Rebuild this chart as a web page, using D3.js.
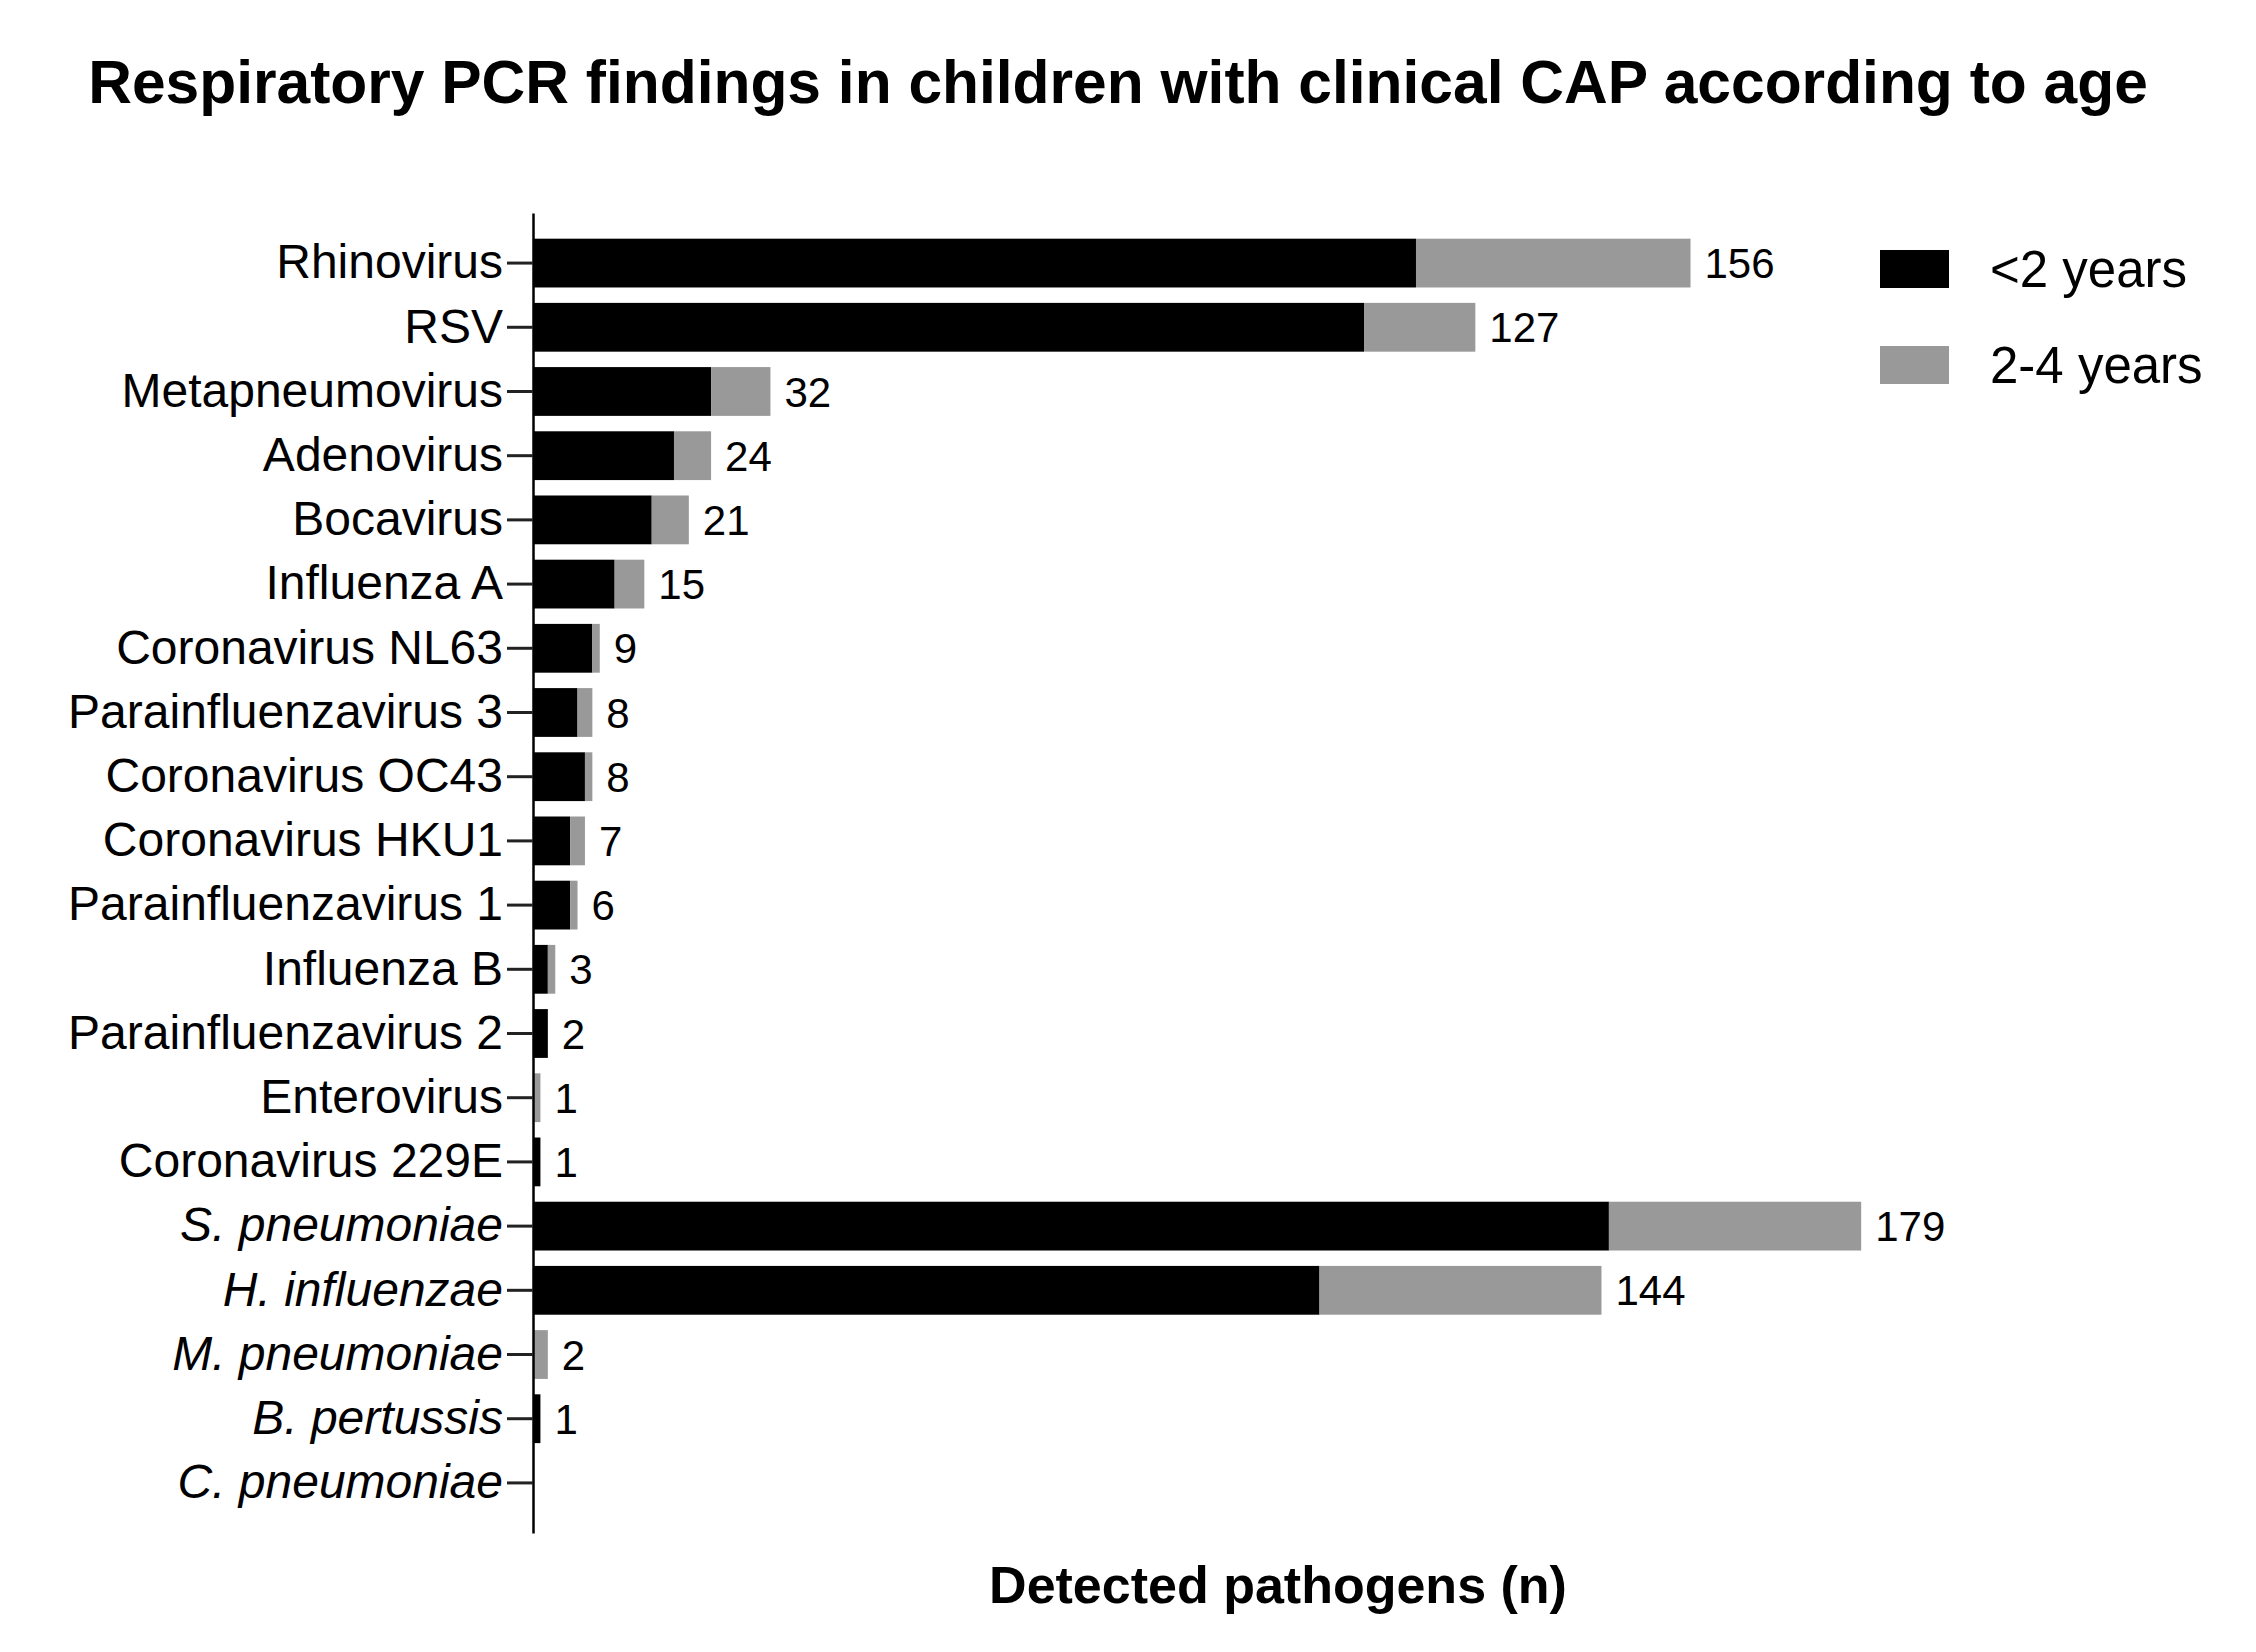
<!DOCTYPE html>
<html>
<head>
<meta charset="utf-8">
<script src="https://cdn.jsdelivr.net/npm/d3@7"></script>
<style>
  body { margin: 0; background: #fff; }
  svg { display: block; font-family: "Liberation Sans", Arial, sans-serif; }
</style>
</head>
<body>
<svg id="chart"></svg>
<script>
// pathogen categories, top to bottom
const categories = [
  "Rhinovirus", "RSV", "Metapneumovirus", "Adenovirus", "Bocavirus", "Influenza A",
  "Coronavirus NL63", "Parainfluenzavirus 3", "Coronavirus OC43", "Coronavirus HKU1",
  "Parainfluenzavirus 1", "Influenza B", "Parainfluenzavirus 2", "Enterovirus",
  "Coronavirus 229E", "S. pneumoniae", "H. influenzae", "M. pneumoniae",
  "B. pertussis", "C. pneumoniae"
];
const italicNames = ["S. pneumoniae", "H. influenzae", "M. pneumoniae", "B. pertussis", "C. pneumoniae"];

const under2 = [119, 112, 24, 19, 16, 11, 8, 6, 7, 5, 5, 2, 2, 0, 1, 145, 106, 0, 1, 0];
const age2to4 = [37, 15, 8, 5, 5, 4, 1, 2, 1, 2, 1, 1, 0, 1, 0, 34, 38, 2, 0, 0];

const seriesNames = ["<2 years", "2-4 years"];
const seriesColors = ["#000000", "#999999"];

const width = 2256, height = 1652;

const svg = d3.select("#chart")
    .attr("width", width)
    .attr("height", height);

const rows = categories.map((c, i) => ({name: c, a: under2[i], b: age2to4[i]}));

const x = d3.scaleLinear()
    .domain([0, 200])
    .range([533, 533 + 7.42 * 200]);

const y = d3.scaleBand()
    .domain(categories)
    .range([213, 1533])
    .paddingInner(0.24)
    .paddingOuter(0.4);

const stacked = d3.stack().keys(["a", "b"])(rows);

// bars
svg.append("g")
    .selectAll("g")
    .data(stacked)
    .enter()
    .append("g")
    .attr("fill", (d, i) => seriesColors[i])
    .selectAll("rect")
    .data(d => d)
    .enter()
    .append("rect")
    .attr("x", d => x(d[0]))
    .attr("y", d => y(d.data.name))
    .attr("width", d => x(d[1]) - x(d[0]))
    .attr("height", y.bandwidth());

// y axis
const yAxis = svg.append("g")
    .attr("transform", `translate(${x(0)},0)`)
    .call(d3.axisLeft(y).tickSize(26).tickSizeOuter(0).tickPadding(4));

yAxis.select(".domain").attr("stroke", "#000").attr("stroke-width", 2.5);
yAxis.selectAll(".tick line").attr("stroke", "#222").attr("stroke-width", 3);
yAxis.selectAll(".tick text")
    .attr("font-size", 48)
    .attr("font-family", "'Liberation Sans', Arial, sans-serif")
    .attr("fill", "#000")
    .attr("font-style", d => italicNames.includes(d) ? "italic" : "normal");

// totals
svg.append("g")
    .selectAll("text")
    .data(rows.filter(d => d.a + d.b > 0))
    .enter()
    .append("text")
    .attr("x", d => x(d.a + d.b) + 14)
    .attr("y", d => y(d.name) + y.bandwidth() / 2)
    .attr("dy", "0.36em")
    .attr("font-size", 42)
    .attr("fill", "#000")
    .text(d => d.a + d.b);

// legend
const legend = svg.append("g")
    .selectAll("g")
    .data(seriesNames)
    .enter()
    .append("g")
    .attr("transform", (d, i) => `translate(1880, ${250 + i * 96})`);

legend.append("rect")
    .attr("width", 69)
    .attr("height", 38)
    .attr("fill", (d, i) => seriesColors[i]);

legend.append("text")
    .attr("x", 110)
    .attr("y", 19)
    .attr("dy", "0.36em")
    .attr("font-size", 51)
    .attr("fill", "#000")
    .text(d => d);

// title
svg.append("text")
    .attr("x", 1118)
    .attr("y", 103)
    .attr("text-anchor", "middle")
    .attr("font-size", 60.5)
    .attr("font-weight", "bold")
    .text("Respiratory PCR findings in children with clinical CAP according to age");

// x axis title
svg.append("text")
    .attr("x", 1278)
    .attr("y", 1603)
    .attr("text-anchor", "middle")
    .attr("font-size", 52)
    .attr("font-weight", "bold")
    .text("Detected pathogens (n)");
</script>
</body>
</html>
